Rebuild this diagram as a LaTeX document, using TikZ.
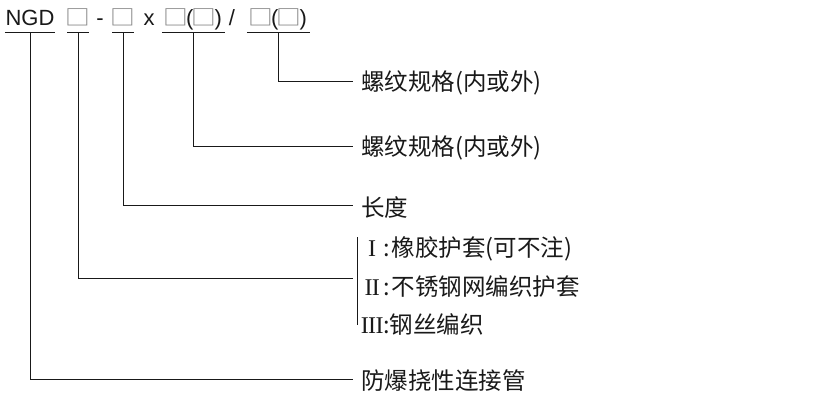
\documentclass[tikz,border=0pt]{standalone}
\usepackage{fontspec}
\setmainfont{Liberation Sans}
\newfontfamily\cjk{Noto Sans CJK SC}
\newfontfamily\rom{Liberation Serif}
\definecolor{ink}{RGB}{25,25,25}
\definecolor{boxgray}{RGB}{128,128,128}
\newcommand\bx{\makebox[21pt]{\color{boxgray}\scalebox{1.15}[1]{\fontsize{21.5}{21.5}\cjk □}}}
\newcommand\rn[1]{\makebox[22pt][c]{\fontsize{24}{24}\rom #1}}
\tikzset{
  hdr/.style={font=\fontsize{22}{22}\selectfont, inner sep=0pt, anchor=base, text=ink},
  lbl/.style={font=\fontsize{23.5}{23.5}\cjk, inner sep=0pt, anchor=west, text=ink},
  conn/.style={draw=ink, line width=0.9pt},
}
\begin{document}
\begin{tikzpicture}[x=1pt,y=-1pt]
\useasboundingbox (0,0) rectangle (834,400);
% header
\node[hdr, minimum width=50] (ngd) at (30,25) {NGD};
\node[hdr, minimum width=21] (g1) at (78,25) {\bx};
\node[hdr] (dash) at (100,25) {-};
\node[hdr, minimum width=21] (g2) at (123,25) {\bx};
\node[hdr] (xx) at (149,25) {x};
\node[hdr, minimum width=63] (g3) at (193.5,25) {\bx(\bx)\hspace{4pt}};
\node[hdr] (sl) at (232,25) {/};
\node[hdr, minimum width=63] (g4) at (278.5,25) {\bx(\bx)\hspace{4pt}};
% labels
\node[lbl] (t1) at (361,83) {螺纹规格(内或外)};
\node[lbl] (t2) at (361,148) {螺纹规格(内或外)};
\node[lbl] (t3) at (361,208) {长度};
\node[lbl] (ty1) at (361,249) {\rn{I}:\hspace{2pt}橡胶护套(可不注)};
\node[lbl] (ty2) at (361,287) {\rn{I\kern-0.7pt I}:\hspace{2pt}不锈钢网编织护套};
\node[lbl] (ty3) at (361,324) {\rn{I\kern-0.7pt I\kern-0.7pt I}:钢丝编织};
\node[lbl] (t5) at (361,381) {防爆挠性连接管};
\coordinate (brk) at (357,278);
% underlines
\foreach \n in {ngd,g1,g2,g3,g4}
  \draw[conn] ([yshift=-7pt]\n.base west) -- ([yshift=-7pt]\n.base east);
% connectors
\draw[conn, shorten >=8pt] ([yshift=-7pt]g4.base) |- ([yshift=2pt]t1.west);
\draw[conn, shorten >=8pt] ([yshift=-7pt]g3.base) |- ([yshift=2pt]t2.west);
\draw[conn, shorten >=8pt] ([yshift=-7pt]g2.base) |- ([yshift=3pt]t3.west);
\draw[conn, shorten >=4pt] ([yshift=-7pt]g1.base) |- (brk);
\draw[conn, shorten >=8pt] ([yshift=-7pt]ngd.base) |- ([yshift=2pt]t5.west);
% bracket
\draw[conn] (357,237) -- (357,325);
\end{tikzpicture}
\end{document}
